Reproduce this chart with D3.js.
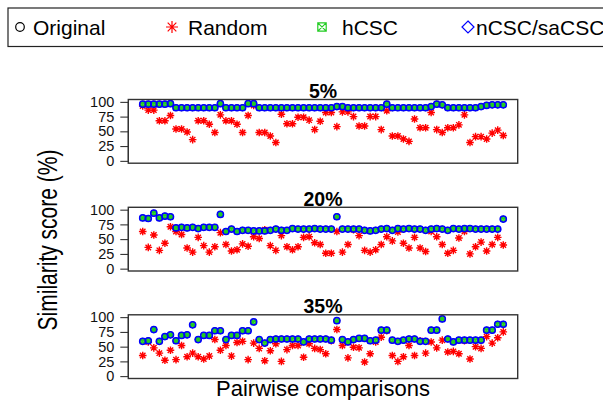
<!DOCTYPE html>
<html>
<head>
<meta charset="utf-8">
<script src="https://cdn.jsdelivr.net/npm/d3@7"></script>
<style>
  body { margin: 0; background: #fff; }
  svg { font-family: "Liberation Sans", Arial, sans-serif; }
</style>
</head>
<body>
<svg width="603" height="400"></svg>
<script>
// 66 pairwise comparisons per panel
var panelTitles = ["5%", "20%", "35%"];
var yTicks = [0, 25, 50, 75, 100];
var legendLabels = ["Original", "Random", "hCSC", "nCSC/saCSC"];

// csc scores (Original, hCSC and nCSC/saCSC coincide)
var csc5 = [96,96,96,96,96,97,90,90,90,90,90,90,90,90,97,90,90,90,90,97,97,90,90,90,90,90,90,90,90,90,90,90,90,90,90,92,92,90,90,90,90,90,90,90,96,90,90,90,90,90,90,90,92,96,95,90,90,90,90,90,90,92,94,95,95,95];
var rand5 = [93,86,86,68,68,77,54,54,49,36,68,68,62,48,78,68,68,62,48,77,94,48,48,42,31,79,63,63,74,74,69,53,67,82,82,58,83,83,75,59,59,75,75,53,85,42,42,37,33,71,56,56,82,53,48,56,56,61,78,31,41,41,37,47,52,43];

var csc20 = [86,85,94,86,89,88,69,70,69,70,68,70,70,70,92,63,67,63,65,65,64,64,64,65,67,65,65,68,67,67,67,68,67,67,67,88,67,67,67,67,65,64,65,67,68,65,68,67,68,67,67,65,67,68,67,65,68,67,68,68,67,67,67,67,67,84];
var rand20 = [63,36,57,31,43,71,63,58,35,28,53,39,28,37,61,41,30,32,42,38,54,51,66,39,31,56,37,32,37,53,54,44,41,26,26,63,28,41,66,56,31,28,32,41,54,47,62,43,35,53,35,29,63,54,41,26,31,52,63,25,37,45,30,41,53,40];

var csc35 = [59,60,79,59,67,70,60,69,70,87,62,69,69,77,77,62,69,69,77,77,92,62,56,62,63,63,63,63,63,58,63,63,63,63,61,94,62,58,62,64,64,60,61,78,78,61,59,61,63,63,59,59,78,78,97,63,58,61,61,61,61,61,78,78,88,88];
var rand35 = [35,58,48,39,27,44,28,52,33,39,33,29,34,62,44,52,34,57,59,28,56,47,26,43,55,25,45,52,52,32,55,47,45,38,60,79,52,31,49,48,24,38,58,66,77,35,25,33,52,35,60,39,58,48,61,41,42,38,60,29,50,47,67,56,65,75];

var panels = [
  { title: panelTitles[0], csc: csc5, rand: rand5 },
  { title: panelTitles[1], csc: csc20, rand: rand20 },
  { title: panelTitles[2], csc: csc35, rand: rand35 }
];

var svg = d3.select("svg");
var left = 128.3, right = 517.7;
var panelTops = [99.5, 207.3, 314.8], panelH = 63.7;
var n = csc5.length;
var pad = 0.04 * (n - 1);

var x = d3.scaleLinear().domain([1 - pad, n + pad]).range([left, right]);

function star(s) {
  var d = s * 0.72;
  return "M" + (-s) + ",0H" + s + "M0," + (-s) + "V" + s +
    "M" + (-d) + "," + (-d) + "L" + d + "," + d +
    "M" + (-d) + "," + d + "L" + d + "," + (-d);
}
function boxX(s) {
  return "M" + (-s) + "," + (-s) + "H" + s + "V" + s + "H" + (-s) + "Z" +
    "M" + (-s) + "," + (-s) + "L" + s + "," + s + "M" + (-s) + "," + s + "L" + s + "," + (-s);
}

panels.forEach(function(p, k) {
  var top = panelTops[k];
  var y = d3.scaleLinear().domain([-4, 104]).range([top + panelH, top]);
  var g = svg.append("g");

  // axis
  var ax = g.append("g")
    .attr("transform", "translate(" + left + ",0)")
    .call(d3.axisLeft(y).tickValues(yTicks).tickSize(8).tickPadding(6));
  ax.select(".domain").attr("d", "M0," + y(0) + "V" + y(100)).attr("stroke", "#222");
  ax.selectAll(".tick line").attr("stroke", "#222");
  ax.selectAll("text").attr("font-size", 14.5).attr("fill", "#111")
    .attr("font-family", "Liberation Sans, Arial, sans-serif");

  // Random
  g.selectAll(".rnd").data(p.rand).enter().append("path")
    .attr("transform", function(d, i) { return "translate(" + x(i + 1) + "," + y(d) + ")"; })
    .attr("d", star(3.8))
    .attr("stroke", "#ff0000").attr("stroke-width", 1.4).attr("fill", "none");

  // Original
  g.selectAll(".orig").data(p.csc).enter().append("circle")
    .attr("cx", function(d, i) { return x(i + 1); })
    .attr("cy", function(d) { return y(d); })
    .attr("r", 3).attr("fill", "none").attr("stroke", "#000").attr("stroke-width", 1);

  // hCSC
  g.selectAll(".hcsc").data(p.csc).enter().append("path")
    .attr("transform", function(d, i) { return "translate(" + x(i + 1) + "," + y(d) + ")"; })
    .attr("d", boxX(1.9))
    .attr("stroke", "#22cc22").attr("stroke-width", 1.2).attr("fill", "#66dd44");

  // nCSC/saCSC
  g.selectAll(".ncsc").data(p.csc).enter().append("circle")
    .attr("cx", function(d, i) { return x(i + 1); })
    .attr("cy", function(d) { return y(d); })
    .attr("r", 3.1).attr("fill", "none").attr("stroke", "#0000ff").attr("stroke-width", 1.5);

  // frame
  g.append("rect").attr("x", left).attr("y", top).attr("width", right - left).attr("height", panelH)
    .attr("fill", "none").attr("stroke", "#333").attr("stroke-width", 1.4);

  g.append("text").attr("x", (left + right) / 2).attr("y", top - 1.5)
    .attr("text-anchor", "middle").attr("font-size", 19.5).attr("font-weight", "bold")
    .text(p.title);
});

// axis titles
svg.append("text").attr("x", (left + right) / 2).attr("y", 395.5)
  .attr("text-anchor", "middle").attr("font-size", 22).text("Pairwise comparisons");
svg.append("text")
  .attr("transform", "translate(57,240) rotate(-90) scale(1,1.3)")
  .attr("text-anchor", "middle").attr("font-size", 21).text("Similarity score (%)");

// legend
var lg = svg.append("g");
lg.append("rect").attr("x", 8).attr("y", 8).attr("width", 610).attr("height", 38.5)
  .attr("fill", "none").attr("stroke", "#222").attr("stroke-width", 1.2);
var ly = 27;
lg.append("circle").attr("cx", 20).attr("cy", ly).attr("r", 4.3)
  .attr("fill", "none").attr("stroke", "#000").attr("stroke-width", 1.2);
lg.append("path").attr("transform", "translate(172," + ly + ")").attr("d", star(6))
  .attr("stroke", "#ff0000").attr("stroke-width", 1.2).attr("fill", "none");
lg.append("path").attr("transform", "translate(322," + ly + ")").attr("d", boxX(4.2))
  .attr("stroke", "#22cc22").attr("stroke-width", 1.2).attr("fill", "none");
lg.append("path").attr("transform", "translate(468," + ly + ")").attr("d", "M0,-6L6,0L0,6L-6,0Z")
  .attr("stroke", "#0000ff").attr("stroke-width", 1.2).attr("fill", "none");
var lx = [33, 188, 342, 476];
lg.selectAll(".lt").data(legendLabels).enter().append("text")
  .attr("x", function(d, i) { return lx[i]; }).attr("y", ly + 7.5)
  .attr("font-size", 21).text(function(d) { return d; });
</script>
</body>
</html>
